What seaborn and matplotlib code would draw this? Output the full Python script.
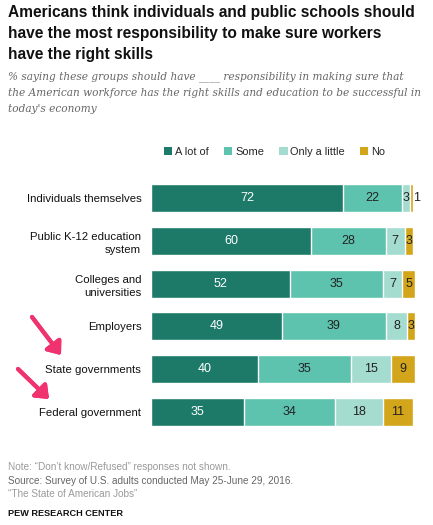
import matplotlib
matplotlib.use("Agg")
import matplotlib.pyplot as plt
import seaborn as sns
import pandas as pd
import numpy as np
from matplotlib.patches import Patch

# data
categories = ["Individuals themselves", "Public K-12 education\nsystem",
              "Colleges and\nuniversities", "Employers",
              "State governments", "Federal government"]
a_lot = [72, 60, 52, 49, 40, 35]
some = [22, 28, 35, 39, 35, 34]
little = [3, 7, 7, 8, 15, 18]
no = [1, 3, 5, 3, 9, 11]
series_names = ["A lot of", "Some", "Only a little", "No"]
colors = ["#1d7a69", "#5ec3ae", "#a5dcd0", "#d3a51b"]

sns.set_style("white")
plt.rcParams["font.family"] = ["Liberation Sans", "DejaVu Sans"]

W, H = 433, 525
fig = plt.figure(figsize=(W / 100, H / 100), dpi=100)

def fx(px):
    return px / W

def fy(py):
    return 1 - py / H

df = pd.DataFrame({"cat": categories, "a": a_lot, "s": some, "l": little, "n": no})
df["c1"] = df["a"]
df["c2"] = df["c1"] + df["s"]
df["c3"] = df["c2"] + df["l"]
df["c4"] = df["c3"] + df["n"]

# axes: bars from x=151px (0%) to 418px (100%), rows centred 198..412px
ax = fig.add_axes([fx(151), fy(433.4), fx(267), (433.4 - 176.6) / H])

# draw cumulative totals back to front so they stack
for col, c in zip(["c4", "c3", "c2", "c1"], colors[::-1]):
    sns.barplot(data=df, x=col, y="cat", order=categories, color=c,
                saturation=1, width=0.654, orient="h", ax=ax, errorbar=None)

ax.set_xlim(0, 100)
ax.set_ylim(5.5, -0.5)
ax.set_xlabel("")
ax.set_ylabel("")
ax.set_xticks([])
sns.despine(ax=ax, left=True, bottom=True)
ax.tick_params(axis="y", length=0, pad=7)
ax.set_yticks(range(len(categories)))
ax.set_yticklabels(categories, fontsize=8.2, color="#111111", ha="right",
                   multialignment="right", linespacing=1.4)

# value labels
for i in range(len(categories)):
    starts = [0, df["c1"][i], df["c2"][i], df["c3"][i]]
    vals = [a_lot[i], some[i], little[i], no[i]]
    for j, (s0, v) in enumerate(zip(starts, vals)):
        xpos = s0 + v / 2
        if v < 2:
            xpos = s0 + v + 1.4
        ax.text(xpos, i, str(v), ha="center", va="center", fontsize=9,
                color="white" if j == 0 else "#222222")

# title and subtitle
fig.text(fx(8), fy(5), "Americans think individuals and public schools should\n"
         "have the most responsibility to make sure workers\nhave the right skills",
         ha="left", va="top", fontsize=11.2, fontweight="bold", color="#111111",
         linespacing=1.52)
fig.text(fx(8), fy(71), "% saying these groups should have ____ responsibility in making sure that\n"
         "the American workforce has the right skills and education to be successful in\n"
         "today's economy",
         ha="left", va="top", fontsize=7.6, style="italic", color="#666666",
         family=["DejaVu Serif"], linespacing=1.75)

# legend
handles = [Patch(facecolor=c, edgecolor="none") for c in colors]
fig.legend(handles, series_names, loc="center left",
           bbox_to_anchor=(fx(164), fy(152)), ncol=4, frameon=False,
           fontsize=7.9, handlelength=0.75, handleheight=0.75,
           handletextpad=0.25, columnspacing=1.4, borderpad=0, borderaxespad=0)

# pink arrows
arrow_kw = dict(arrowstyle="-|>,head_length=0.5,head_width=0.4", color="#f0336f",
                lw=3.0, mutation_scale=14, shrinkA=0, shrinkB=0)
fig.add_artist(plt.annotate("", xy=(fx(61), fy(355)), xytext=(fx(32), fy(317)),
                            xycoords="figure fraction", textcoords="figure fraction",
                            arrowprops=arrow_kw))
fig.add_artist(plt.annotate("", xy=(fx(49), fy(399)), xytext=(fx(18), fy(369)),
                            xycoords="figure fraction", textcoords="figure fraction",
                            arrowprops=arrow_kw))

# footnotes
fig.text(fx(8), fy(467.5), "Note: \u201cDon\u2019t know/Refused\u201d responses not shown.",
         ha="left", va="center", fontsize=7.2, color="#9a9a9a")
fig.text(fx(8), fy(481.5), "Source: Survey of U.S. adults conducted May 25-June 29, 2016.",
         ha="left", va="center", fontsize=7.2, color="#666666")
fig.text(fx(8), fy(494), "\u201cThe State of American Jobs\u201d",
         ha="left", va="center", fontsize=7.2, color="#9a9a9a")
fig.text(fx(8), fy(514), "PEW RESEARCH CENTER",
         ha="left", va="center", fontsize=6.6, fontweight="bold", color="#111111")

fig.savefig("out.png", dpi=100)
